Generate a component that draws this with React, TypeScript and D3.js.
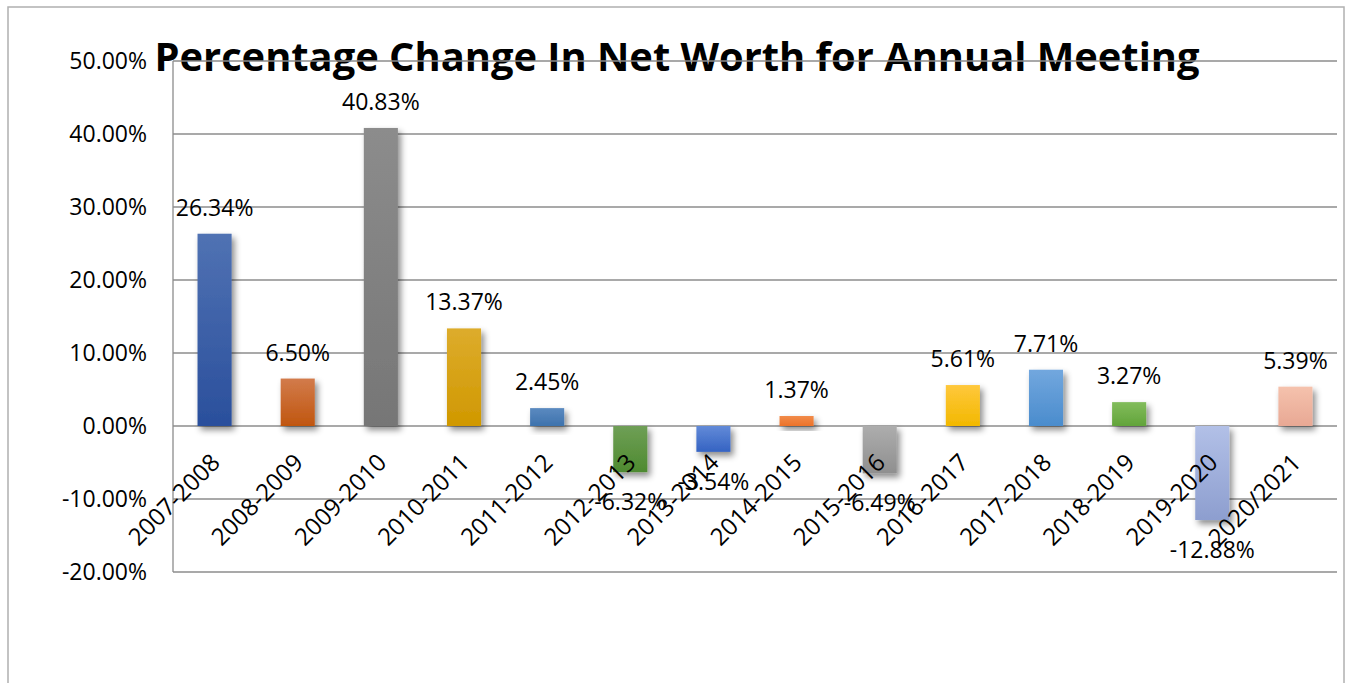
import { useEffect, useRef } from "react";
import * as d3 from "d3";

const categories = [
  "2007-2008", "2008-2009", "2009-2010", "2010-2011", "2011-2012", "2012-2013", "2013-2014",
  "2014-2015", "2015-2016", "2016-2017", "2017-2018", "2018-2019", "2019-2020", "2020/2021",
];
const changes = [26.34, 6.5, 40.83, 13.37, 2.45, -6.32, -3.54, 1.37, -6.49, 5.61, 7.71, 3.27, -12.88, 5.39];
const yTicks = [-20, -10, 0, 10, 20, 30, 40, 50];
const title = "Percentage Change In Net Worth for Annual Meeting";

// top / bottom colours of each bar's gradient
const topColors = [
  "#5072b3", "#d27b4b", "#8c8c8c", "#ddac2c", "#5b8ac0", "#6f9f56", "#628ad8",
  "#f18b4a", "#adadad", "#ffc83c", "#72a7de", "#82bc5c", "#b2c0e7", "#f5c2ad",
];
const bottomColors = [
  "#2a4f9c", "#c0560f", "#767676", "#d09800", "#3d72ad", "#4e8a30", "#3563c2",
  "#ec7228", "#8f8f8f", "#f2b800", "#4a8ccd", "#62a43a", "#8d9ecf", "#e8a894",
];

const W = 1351;
const H = 683;
const FONT = "'Open Sans', 'Noto Sans', sans-serif";

const pct = (d: number) => d.toFixed(2) + "%";

export default function App() {
  const ref = useRef<SVGSVGElement>(null);

  useEffect(() => {
    const svg = d3.select(ref.current);
    svg.selectAll("*").remove();

    const left = 173;
    const right = 1337;

    const x = d3.scaleBand().domain(categories).range([left, right]).paddingInner(0.59).paddingOuter(0.295);
    const y = d3.scaleLinear().domain([-20, 50]).range([572, 61]);

    const defs = svg.append("defs");
    const shadow = defs.append("filter").attr("id", "shadow").attr("x", "-50%").attr("y", "-50%").attr("width", "200%").attr("height", "200%");
    shadow.append("feDropShadow").attr("dx", 3).attr("dy", 4).attr("stdDeviation", 3).attr("flood-color", "#000").attr("flood-opacity", 0.45);

    categories.forEach((c, i) => {
      const g = defs.append("linearGradient").attr("id", `grad${i}`).attr("x1", 0).attr("y1", 0).attr("x2", 0).attr("y2", 1);
      g.append("stop").attr("offset", "0%").attr("stop-color", topColors[i]);
      g.append("stop").attr("offset", "100%").attr("stop-color", bottomColors[i]);
    });

    // outer chart frame
    svg.append("rect")
      .attr("x", 8).attr("y", 7).attr("width", 1336).attr("height", 720)
      .attr("fill", "#fff").attr("stroke", "#b0b0b0").attr("stroke-width", 1.5);

    // title (gridlines are drawn over it)
    svg.append("text")
      .attr("x", 677).attr("y", 71)
      .attr("text-anchor", "middle")
      .attr("font-family", FONT).attr("font-weight", "bold").attr("font-size", 40)
      .attr("textLength", 1045).attr("lengthAdjust", "spacingAndGlyphs")
      .attr("fill", "#000")
      .text(title);

    // gridlines
    svg.append("g")
      .selectAll("line")
      .data(yTicks)
      .join("line")
      .attr("x1", left).attr("x2", right)
      .attr("y1", (d) => y(d)).attr("y2", (d) => y(d))
      .attr("stroke", "#8c8c8c").attr("stroke-width", 1.3);

    svg.append("line")
      .attr("x1", left).attr("x2", left)
      .attr("y1", y(50)).attr("y2", y(-20))
      .attr("stroke", "#8c8c8c").attr("stroke-width", 1.3);

    // y tick labels
    svg.append("g")
      .selectAll("text")
      .data(yTicks)
      .join("text")
      .attr("x", 147).attr("y", (d) => y(d))
      .attr("dy", "0.36em")
      .attr("text-anchor", "end")
      .attr("font-family", FONT).attr("font-size", 23)
      .attr("fill", "#000")
      .text((d) => pct(d));

    // bars
    svg.append("g")
      .selectAll("rect")
      .data(changes)
      .join("rect")
      .attr("x", (_, i) => x(categories[i])!)
      .attr("width", x.bandwidth())
      .attr("y", (d) => y(Math.max(0, d)))
      .attr("height", (d) => Math.abs(y(d) - y(0)))
      .attr("fill", (_, i) => `url(#grad${i})`)
      .attr("filter", "url(#shadow)");

    // category labels
    svg.append("g")
      .selectAll("text")
      .data(categories)
      .join("text")
      .attr("transform", (d) => `translate(${x(d)! + x.bandwidth() / 2 + 7},${y(0) + 38}) rotate(-45)`)
      .attr("text-anchor", "end")
      .attr("font-family", FONT).attr("font-size", 24)
      .attr("fill", "#000")
      .text((d) => d);

    // value labels
    svg.append("g")
      .selectAll("text")
      .data(changes)
      .join("text")
      .attr("x", (_, i) => x(categories[i])! + x.bandwidth() / 2)
      .attr("y", (d) => (d >= 0 ? y(d) - 18 : y(d) + 38))
      .attr("text-anchor", "middle")
      .attr("font-family", FONT).attr("font-size", 23)
      .attr("fill", "#000")
      .text((d) => pct(d));
  }, []);

  return (
    <svg
      ref={ref}
      width={W}
      height={H}
      style={{ position: "absolute", left: 0, top: 0, display: "block", overflow: "hidden" }}
    />
  );
}
